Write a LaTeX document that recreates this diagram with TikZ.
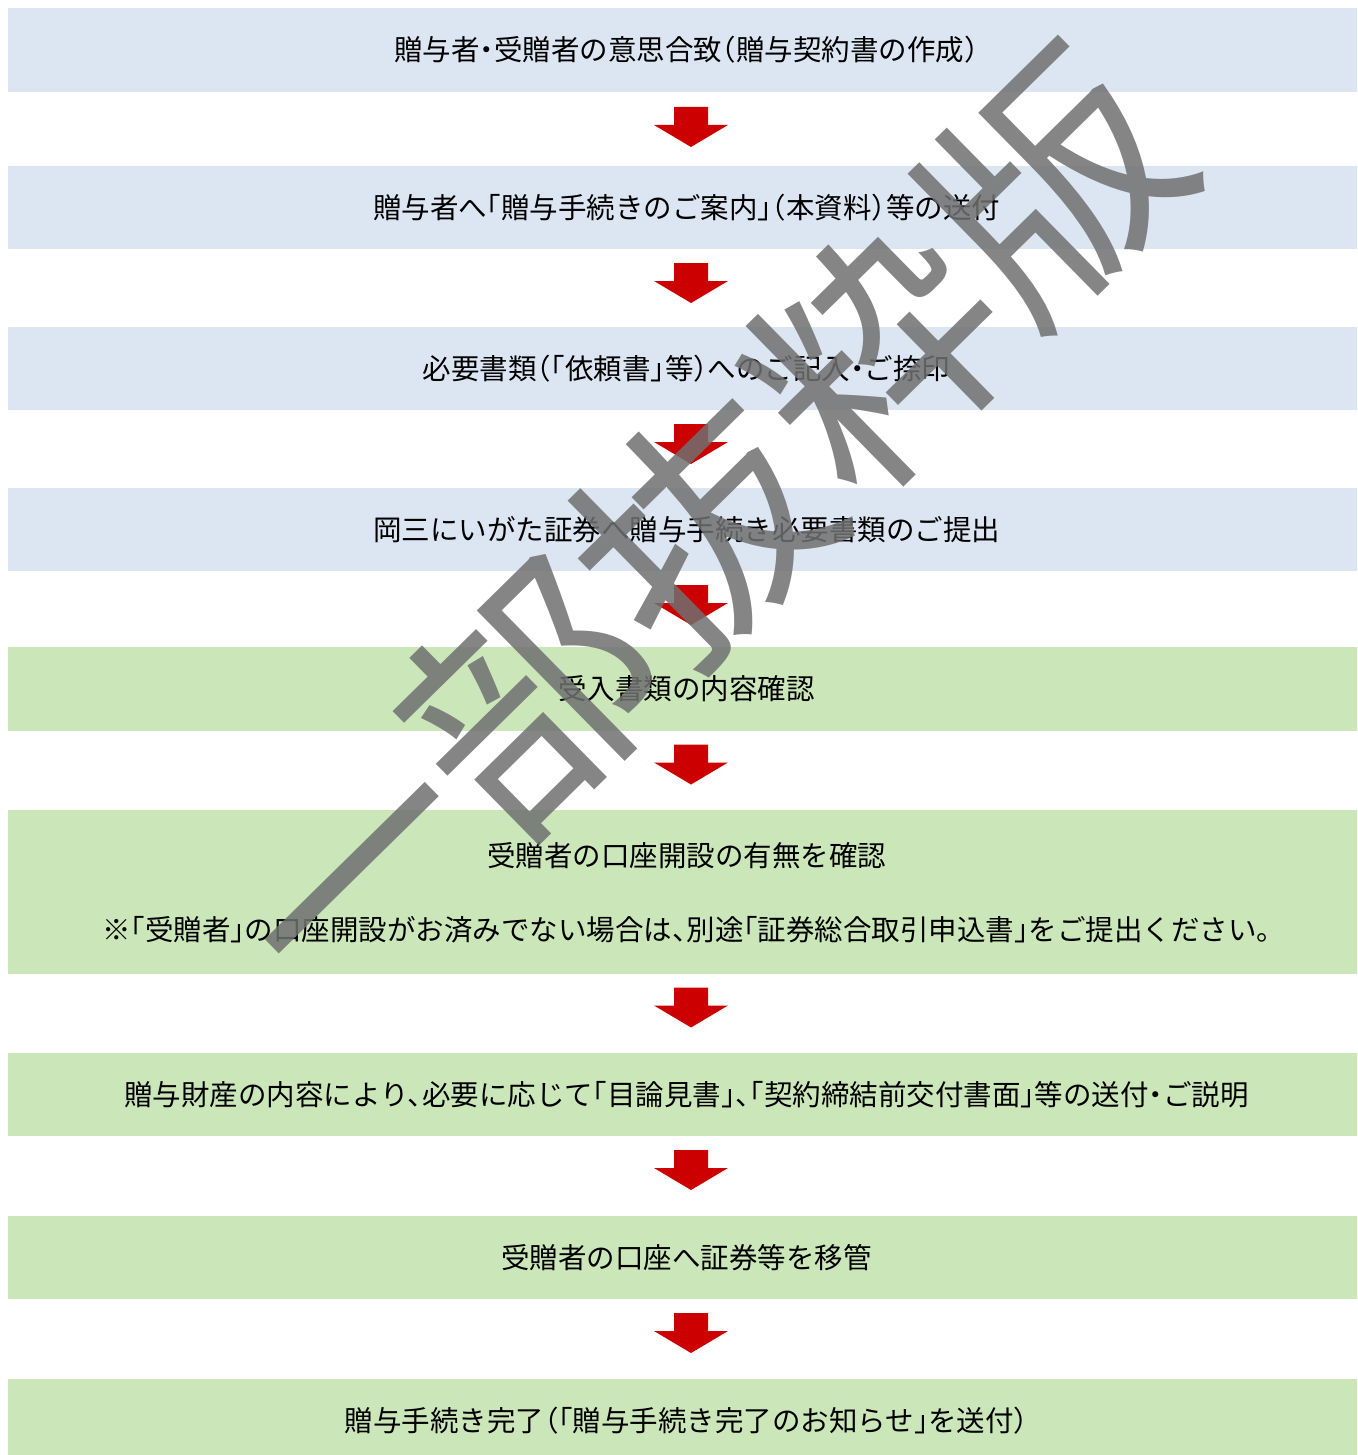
\documentclass[tikz,border=0pt]{standalone}
\usepackage{fontspec}
\setmainfont{Noto Sans CJK JP}[RawFeature=+halt]
\newfontfamily\wmfont{Noto Sans CJK JP}
\usetikzlibrary{calc}
\definecolor{boxblue}{RGB}{220,230,242}
\definecolor{boxgreen}{RGB}{203,231,186}
\definecolor{arrred}{RGB}{204,0,0}
\definecolor{wmgray}{RGB}{112,112,112}
\tikzset{
  stepbase/.style={minimum width=1357pt, inner sep=0pt, outer sep=0pt,
    font=\fontsize{28.5}{33}\selectfont, text=black},
  bluebox/.style={stepbase, fill=boxblue},
  greenbox/.style={stepbase, fill=boxgreen},
  plainlabel/.style={inner sep=0pt, font=\fontsize{28.5}{33}\selectfont, text=black},
  downarrow/.pic={
    \fill[arrred] (-17,-20) -- (17,-20) -- (17,-2) -- (37,-2) -- (0,20)
      -- (-37,-2) -- (-17,-2) -- cycle;
  },
  watermark/.style={font=\wmfont\fontsize{245}{250}\selectfont, text=wmgray,
    text opacity=0.85, rotate=44.5, inner sep=0pt}
}
\begin{document}
\begin{tikzpicture}[x=1pt,y=-1pt]
\useasboundingbox (0,0) rectangle (1357,1455);
\clip (0,0) rectangle (1357,1455);
\node[bluebox, minimum height=84pt] (b1) at (686.5,50) {贈与者・受贈者の意思合致（贈与契約書の作成）};
\node[bluebox, minimum height=83pt] (b2) at (686.5,207.5) {贈与者へ「贈与手続きのご案内」（本資料）等の送付};
\node[bluebox, minimum height=83pt] (b3) at (686.5,368.5) {必要書類（「依頼書」等）へのご記入・ご捺印};
\node[bluebox, minimum height=83pt] (b4) at (686.5,529.5) {岡三にいがた証券へ贈与手続き必要書類のご提出};
\node[greenbox, minimum height=84pt] (b5) at (686.5,689) {受入書類の内容確認};
\node[greenbox, minimum height=164pt] (b6) at (686.5,892) {};
\node[plainlabel] (b6a) at (686.5,856) {受贈者の口座開設の有無を確認};
\node[plainlabel] (b6b) at (686.5,930) {※「受贈者」の口座開設がお済みでない場合は、別途「証券総合取引申込書」をご提出ください。};
\node[greenbox, minimum height=83pt] (b7) at (686.5,1094.5) {贈与財産の内容により、必要に応じて「目論見書」、「契約締結前交付書面」等の送付・ご説明};
\node[greenbox, minimum height=83pt] (b8) at (686.5,1257.5) {受贈者の口座へ証券等を移管};
\node[greenbox, minimum height=84pt] (b9) at (686.5,1421) {贈与手続き完了（「贈与手続き完了のお知らせ」を送付）};
\pic at ($(b1.south)!0.5!(b2.north)+(4.5,-2)$) {downarrow};
\pic at ($(b2.south)!0.5!(b3.north)+(4.5,-5)$) {downarrow};
\pic at ($(b3.south)!0.5!(b4.north)+(4.5,-5)$) {downarrow};
\pic at ($(b4.south)!0.5!(b5.north)+(4.5,-4)$) {downarrow};
\pic at ($(b5.south)!0.5!(b6.north)+(4.5,-6)$) {downarrow};
\pic at ($(b6.south)!0.5!(b7.north)+(4.5,-6)$) {downarrow};
\pic at ($(b7.south)!0.5!(b8.north)+(4.5,-6)$) {downarrow};
\pic at ($(b8.south)!0.5!(b9.north)+(4.5,-6)$) {downarrow};
\node[watermark] (wm) at (703,527) {一部抜粋版};
\end{tikzpicture}
\end{document}
